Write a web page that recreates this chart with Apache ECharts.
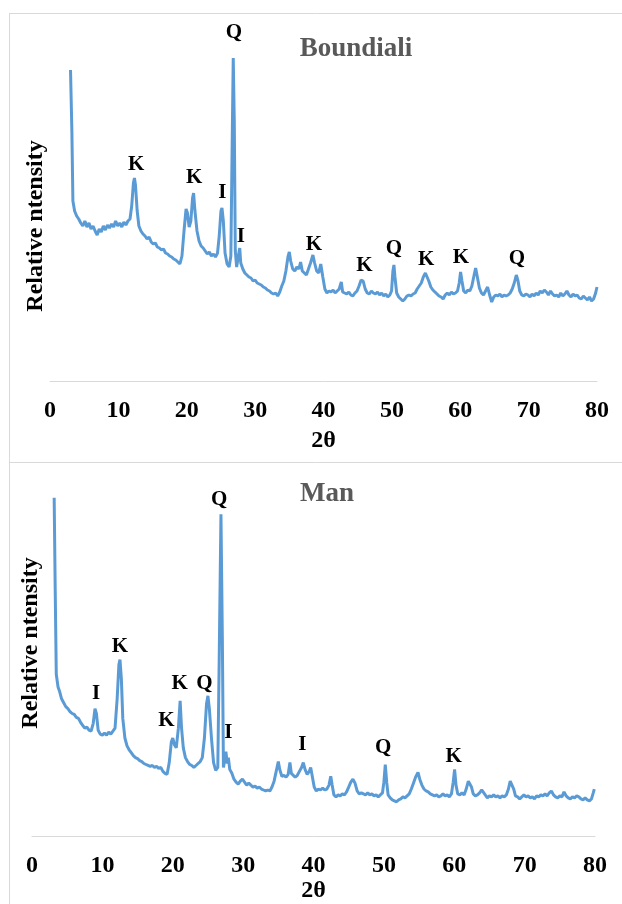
<!DOCTYPE html>
<html>
<head>
<meta charset="utf-8">
<script src="https://cdn.jsdelivr.net/npm/echarts@6/dist/echarts.min.js"></script>
<style>html,body{margin:0;padding:0;background:#fff;}#c{width:622px;height:904px;}</style>
</head>
<body>
<div id="c"></div>
<script>
// ---- data ----
var thetaTicks = [0, 10, 20, 30, 40, 50, 60, 70, 80];
var boundialiPattern = [
[3.0,311],[3.2,250],[3.35,180],[3.6,170],[3.9,165],[4.2,162],[4.5,158],[4.8,155],[5.1,160],[5.4,154],[5.7,158],[6.0,152],[6.3,155],[6.6,150],[6.9,146],[7.2,152],[7.5,149],[7.8,155],[8.1,151],[8.4,156],[8.7,153],[9.0,157],[9.3,154],[9.6,160],[9.9,155],[10.2,158],[10.5,154],[10.8,159],[11.1,156],[11.4,160],[11.7,162],[11.95,175],[12.2,198],[12.35,203],[12.5,196],[12.75,170],[13.0,155],[13.3,150],[13.6,147],[13.9,145],[14.2,142],[14.5,144],[14.8,139],[15.1,137],[15.4,138],[15.7,134],[16.0,133],[16.3,131],[16.6,132],[16.9,128],[17.2,127],[17.5,125],[17.8,124],[18.1,122],[18.4,121],[18.7,119],[19.0,117],[19.3,125],[19.6,150],[19.9,172],[20.1,168],[20.35,154],[20.6,160],[20.85,183],[21.0,188],[21.2,170],[21.5,150],[21.8,140],[22.1,135],[22.4,133],[22.7,130],[23.0,127],[23.3,129],[23.6,125],[23.9,127],[24.2,124],[24.5,128],[24.75,145],[25.0,170],[25.15,173],[25.35,160],[25.6,128],[25.9,117],[26.2,114],[26.45,125],[26.65,240],[26.8,323],[26.95,260],[27.1,130],[27.3,114],[27.55,125],[27.75,133],[27.9,118],[28.2,112],[28.5,108],[28.8,106],[29.1,104],[29.4,103],[29.7,100],[30.0,101],[30.3,98],[30.6,97],[30.9,96],[31.2,94],[31.5,93],[31.8,91],[32.1,90],[32.4,88],[32.7,87],[33.0,88],[33.3,85],[33.6,89],[33.9,95],[34.2,100],[34.5,110],[34.8,124],[35.0,129],[35.2,120],[35.5,112],[35.8,110],[36.1,114],[36.4,112],[36.65,119],[36.9,110],[37.2,108],[37.5,106],[37.8,112],[38.1,118],[38.45,126],[38.7,118],[39.0,110],[39.3,108],[39.6,117],[39.9,104],[40.2,92],[40.5,88],[40.8,90],[41.1,89],[41.4,91],[41.7,88],[42.0,90],[42.3,92],[42.6,99],[42.8,89],[43.1,88],[43.4,87],[43.7,89],[44.0,86],[44.3,85],[44.6,88],[44.9,90],[45.2,95],[45.5,101],[45.8,100],[46.1,92],[46.4,88],[46.7,87],[47.0,90],[47.3,88],[47.6,87],[47.9,89],[48.2,86],[48.5,88],[48.8,85],[49.1,87],[49.4,84],[49.7,86],[49.95,90],[50.15,110],[50.3,116],[50.45,104],[50.7,88],[51.0,84],[51.3,82],[51.6,80],[51.9,82],[52.2,85],[52.5,86],[52.8,85],[53.1,87],[53.4,88],[53.7,92],[54.0,95],[54.3,98],[54.6,104],[54.9,108],[55.1,107],[55.4,100],[55.7,94],[56.0,91],[56.3,89],[56.6,87],[56.9,85],[57.2,84],[57.5,82],[57.8,86],[58.1,88],[58.4,86],[58.7,89],[59.0,87],[59.3,88],[59.6,90],[59.85,98],[60.05,109],[60.25,100],[60.5,90],[60.8,88],[61.1,91],[61.4,90],[61.7,95],[62.0,105],[62.25,113],[62.5,104],[62.8,93],[63.1,88],[63.4,86],[63.7,90],[64.0,94],[64.3,86],[64.6,79],[64.9,84],[65.2,86],[65.5,85],[65.8,87],[66.1,84],[66.4,86],[66.7,85],[67.0,86],[67.3,88],[67.6,92],[67.9,98],[68.2,106],[68.45,100],[68.7,90],[69.0,86],[69.3,85],[69.6,87],[69.9,86],[70.2,84],[70.5,87],[70.8,85],[71.1,88],[71.4,86],[71.7,90],[72.0,88],[72.3,91],[72.6,89],[72.9,86],[73.2,90],[73.5,87],[73.8,85],[74.1,86],[74.4,84],[74.7,88],[75.0,85],[75.3,87],[75.6,90],[75.9,86],[76.2,84],[76.5,87],[76.8,85],[77.1,86],[77.4,83],[77.7,82],[78.0,85],[78.3,83],[78.6,81],[78.9,84],[79.2,80],[79.5,82],[79.8,88],[80.0,94]
];
var manPattern = [
[3.15,345],[3.3,250],[3.45,165],[3.7,152],[3.9,148],[4.2,140],[4.5,136],[4.8,132],[5.1,130],[5.4,127],[5.7,125],[6.0,124],[6.3,121],[6.6,120],[6.9,116],[7.2,113],[7.5,110],[7.8,111],[8.1,108],[8.4,107],[8.7,115],[8.95,130],[9.15,125],[9.4,108],[9.7,104],[10.0,103],[10.3,105],[10.6,103],[10.9,106],[11.2,104],[11.5,107],[11.8,110],[12.1,140],[12.35,175],[12.5,180],[12.7,160],[12.9,120],[13.2,100],[13.5,92],[13.8,88],[14.1,85],[14.4,82],[14.7,80],[15.0,79],[15.3,77],[15.6,76],[15.9,74],[16.2,73],[16.5,72],[16.8,71],[17.1,72],[17.4,70],[17.7,71],[18.0,69],[18.3,70],[18.6,66],[18.9,64],[19.2,63],[19.5,75],[19.8,96],[20.0,100],[20.25,93],[20.5,90],[20.8,110],[21.05,138],[21.25,110],[21.5,90],[21.8,80],[22.1,76],[22.4,73],[22.7,72],[23.0,70],[23.3,72],[23.6,74],[23.9,76],[24.2,80],[24.5,100],[24.8,135],[25.0,143],[25.2,130],[25.5,100],[25.8,75],[26.1,67],[26.4,70],[26.6,180],[26.85,328],[27.05,200],[27.2,70],[27.4,78],[27.55,86],[27.75,74],[27.9,80],[28.1,68],[28.4,64],[28.7,58],[29.0,55],[29.3,53],[29.6,56],[29.9,58],[30.2,55],[30.5,52],[30.8,54],[31.1,52],[31.4,50],[31.7,51],[32.0,49],[32.3,50],[32.6,48],[32.9,47],[33.2,46],[33.5,47],[33.8,46],[34.1,50],[34.4,56],[34.7,66],[35.0,76],[35.2,68],[35.5,61],[35.8,62],[36.1,60],[36.4,63],[36.65,75],[36.85,64],[37.1,62],[37.4,60],[37.7,62],[38.0,66],[38.3,70],[38.55,75],[38.8,68],[39.1,63],[39.4,66],[39.6,70],[39.85,60],[40.1,50],[40.4,46],[40.7,48],[41.0,47],[41.3,49],[41.6,47],[41.9,48],[42.2,52],[42.45,61],[42.65,52],[42.9,42],[43.2,40],[43.5,42],[43.8,41],[44.1,43],[44.4,42],[44.7,45],[45.0,50],[45.3,55],[45.6,58],[45.9,54],[46.2,46],[46.5,43],[46.8,44],[47.1,43],[47.4,42],[47.7,44],[48.0,42],[48.3,43],[48.6,41],[48.9,42],[49.2,40],[49.5,42],[49.8,44],[50.0,55],[50.2,73],[50.4,55],[50.6,42],[50.9,39],[51.2,37],[51.5,36],[51.8,35],[52.1,37],[52.4,38],[52.7,40],[53.0,39],[53.3,41],[53.6,43],[53.9,48],[54.2,54],[54.5,60],[54.85,65],[55.1,58],[55.4,52],[55.7,48],[56.0,46],[56.3,45],[56.6,43],[56.9,42],[57.2,41],[57.5,42],[57.8,40],[58.1,41],[58.4,43],[58.7,41],[59.0,42],[59.3,40],[59.6,43],[59.85,55],[60.05,68],[60.25,52],[60.5,43],[60.8,42],[61.1,44],[61.4,42],[61.7,48],[62.0,56],[62.2,58],[62.45,50],[62.7,43],[63.0,41],[63.3,42],[63.6,44],[63.9,47],[64.1,48],[64.4,42],[64.7,39],[65.0,41],[65.3,40],[65.6,42],[65.9,40],[66.2,41],[66.5,39],[66.8,41],[67.1,40],[67.4,42],[67.7,48],[67.95,56],[68.2,56],[68.45,48],[68.7,41],[69.0,40],[69.3,38],[69.6,40],[69.9,42],[70.2,40],[70.5,41],[70.8,39],[71.1,40],[71.4,38],[71.7,41],[72.0,40],[72.3,42],[72.6,41],[72.9,43],[73.2,41],[73.5,44],[73.8,46],[74.1,42],[74.4,40],[74.7,39],[75.0,41],[75.3,40],[75.6,45],[75.9,41],[76.2,39],[76.5,38],[76.8,40],[77.1,39],[77.4,41],[77.7,40],[78.0,38],[78.3,37],[78.6,39],[78.9,37],[79.2,36],[79.5,38],[79.75,44],[79.9,48]
];
// peak annotations: [2θ, label height, mineral letter]
var boundialiPeaks = [
[12.6,216,'K'],[21.1,203,'K'],[25.2,188,'I'],[26.9,348,'Q'],[27.9,144,'I'],[38.6,136,'K'],[46.0,115,'K'],[50.3,132,'Q'],[55.0,121,'K'],[60.1,123,'K'],[68.3,122,'Q']
];
var manPeaks = [
[26.6,343,'Q'],[12.5,193,'K'],[9.1,145,'I'],[21.0,155,'K'],[24.5,155,'Q'],[19.1,118,'K'],[27.9,106,'I'],[38.4,93,'I'],[49.9,90,'Q'],[59.9,81,'K']
];
var panelTitles = ['Boundiali', 'Man'];
var xTitle = '2θ';
var yTitle = 'Relative ntensity';

// ---- chart ----
var FONT = '"Liberation Serif", "Times New Roman", serif';
var LINE = '#5b9bd5';
var chart = echarts.init(document.getElementById('c'), null, {renderer: 'canvas'});

function xAxisDef(gi, gap) {
  return {
    gridIndex: gi, type: 'value', min: 0, max: 80, interval: 10,
    axisLine: {show: true, lineStyle: {color: '#d9d9d9', width: 1}},
    axisTick: {show: false}, splitLine: {show: false},
    axisLabel: {margin: 18, fontFamily: FONT, fontWeight: 'bold', fontSize: 24, color: '#000',
      formatter: function (v) { return thetaTicks.indexOf(v) >= 0 ? String(v) : ''; }},
    name: xTitle, nameLocation: 'middle', nameGap: gap,
    nameTextStyle: {fontFamily: FONT, fontWeight: 'bold', fontSize: 24, color: '#000'}
  };
}
function yAxisDef(gi) {
  return {gridIndex: gi, type: 'value', min: 0, max: 361, show: false};
}
function peakSeries(idx, data) {
  return {
    type: 'scatter', xAxisIndex: idx, yAxisIndex: idx, data: data,
    symbolSize: 1, itemStyle: {color: 'rgba(0,0,0,0)'}, silent: true,
    label: {show: true, position: 'inside', formatter: function (p) { return p.data[2]; },
      fontFamily: FONT, fontWeight: 'bold', fontSize: 21, color: '#000', opacity: 1},
    z: 5
  };
}
function lineSeries(idx, data) {
  return {
    type: 'line', xAxisIndex: idx, yAxisIndex: idx, data: data,
    showSymbol: false, symbol: 'none', smooth: false,
    lineStyle: {color: LINE, width: 3}, clip: false
  };
}

chart.setOption({
  animation: false,
  backgroundColor: '#fff',
  title: [
    {text: panelTitles[0], left: 351, top: 44, textAlign: 'center', textVerticalAlign: 'middle',
      textStyle: {fontFamily: FONT, fontWeight: 'bold', fontSize: 27, color: '#595959'}},
    {text: panelTitles[1], left: 322, top: 489, textAlign: 'center', textVerticalAlign: 'middle',
      textStyle: {fontFamily: FONT, fontWeight: 'bold', fontSize: 27, color: '#595959'}}
  ],
  grid: [
    {left: 50, right: 25, top: 20, height: 361},
    {left: 32, right: 27, top: 482, height: 361}
  ],
  xAxis: [xAxisDef(0, 48), xAxisDef(1, 39)],
  yAxis: [yAxisDef(0), yAxisDef(1)],
  series: [
    lineSeries(0, boundialiPattern),
    peakSeries(0, boundialiPeaks),
    lineSeries(1, manPattern),
    peakSeries(1, manPeaks)
  ],
  graphic: [
    {type: 'line', shape: {x1: 9, y1: 13.5, x2: 622, y2: 13.5}, style: {stroke: '#d9d9d9', lineWidth: 1}},
    {type: 'line', shape: {x1: 9.5, y1: 13, x2: 9.5, y2: 904}, style: {stroke: '#d9d9d9', lineWidth: 1}},
    {type: 'line', shape: {x1: 9, y1: 462.5, x2: 622, y2: 462.5}, style: {stroke: '#d9d9d9', lineWidth: 1}},
    {type: 'text', x: 36, y: 226, rotation: Math.PI / 2,
      style: {text: yTitle, fontFamily: FONT, fontWeight: 'bold', fontSize: 24, fill: '#000',
        textAlign: 'center', textVerticalAlign: 'middle'}},
    {type: 'text', x: 31, y: 643, rotation: Math.PI / 2,
      style: {text: yTitle, fontFamily: FONT, fontWeight: 'bold', fontSize: 24, fill: '#000',
        textAlign: 'center', textVerticalAlign: 'middle'}}
  ]
});
</script>
</body>
</html>
